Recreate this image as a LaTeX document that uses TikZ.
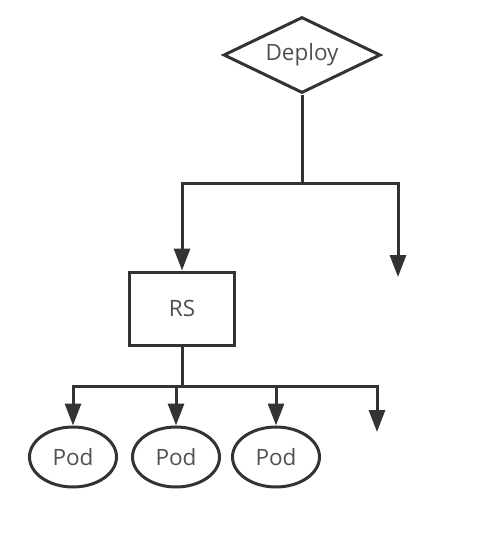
\documentclass[tikz,border=0pt]{standalone}
\usepackage{fontspec}
\setmainfont{Open Sans}
\usetikzlibrary{shapes.geometric,arrows.meta}
\definecolor{lc}{HTML}{333333}
\definecolor{tc}{HTML}{505050}
\begin{document}
\begin{tikzpicture}[x=1pt,y=-1pt,
  every node/.style={font=\fontsize{22.5}{26}\selectfont, text=tc, line width=3pt, draw=lc, inner sep=0pt},
  deploybox/.style={diamond, aspect=2, minimum width=157pt, minimum height=76pt},
  rsbox/.style={rectangle, minimum width=105pt, minimum height=73pt},
  podbox/.style={ellipse, minimum width=87pt, minimum height=60pt},
  conn/.style={line width=3pt, draw=lc},
  arr/.style={conn, -{Triangle[length=22pt,width=16pt]}}]
\useasboundingbox (0,0) rectangle (484,539);
\node[deploybox] (D) at (302,55) {Deploy};
\node[rsbox] (RS) at (182,308.5) {RS};
\node[podbox] (P1) at (73,457) {Pod};
\node[podbox] (P2) at (176,457) {Pod};
\node[podbox] (P3) at (276,457) {Pod};
\coordinate (j1) at (302,183);
\coordinate (e1) at (398,277);
\coordinate (j2) at (182,386);
\coordinate (e2) at (377,432);
\draw[conn] (D.south) -- (j1);
\draw[arr] (j1) -| (RS.north);
\draw[arr] (j1) -| (e1);
\draw[conn] (RS.south) -- (j2);
\draw[arr] (j2) -| (P1.north);
\draw[arr] (j2) -| (P2.north);
\draw[arr] (j2) -| (P3.north);
\draw[arr] (j2) -| (e2);
\end{tikzpicture}
\end{document}
